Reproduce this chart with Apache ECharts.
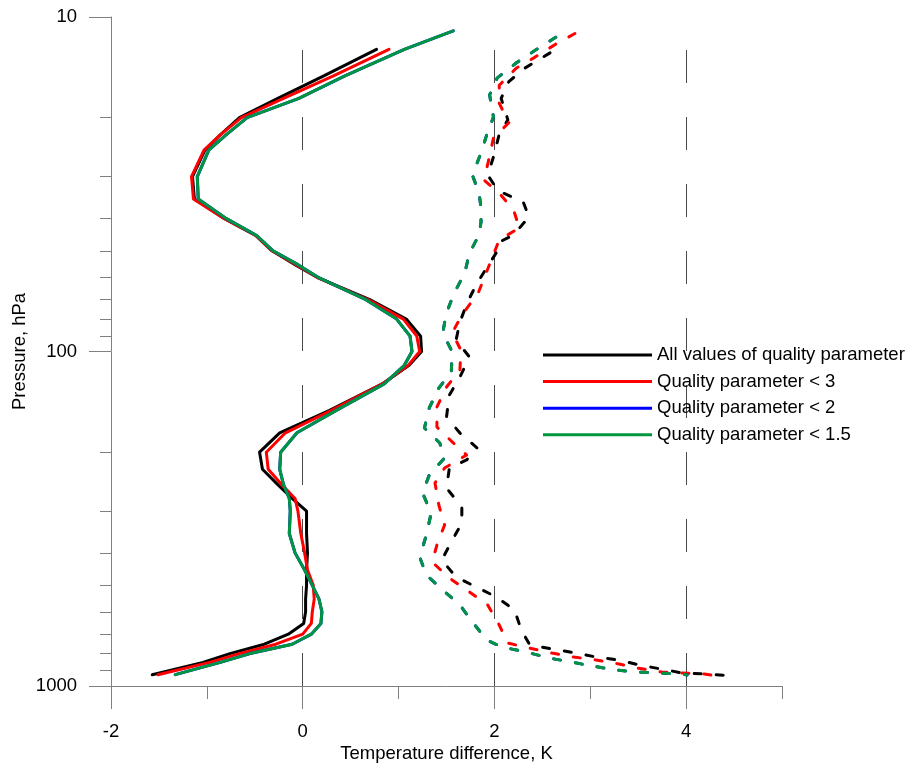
<!DOCTYPE html>
<html>
<head>
<meta charset="utf-8">
<script src="https://cdn.jsdelivr.net/npm/echarts@6/dist/echarts.min.js"></script>
<style>
html,body{margin:0;padding:0;background:#fff;}
#chart{width:911px;height:763px;}
</style>
</head>
<body>
<div id="chart"></div>
<script>
// ---- Data ----
const seriesNames = ['All values of quality parameter', 'Quality parameter < 3', 'Quality parameter < 2', 'Quality parameter < 1.5'];

// x-axis ticks (K) and y-axis ticks (hPa)
const xMajorTicks = [-2, 0, 2, 4];
const xMinorTicks = [-1, 1, 3, 5];
const pMajorTicks = [10, 100, 1000];
const pMinorTicks = [20, 30, 40, 50, 60, 70, 80, 90, 200, 300, 400, 500, 600, 700, 800, 900];
const refLinesX = [0, 2, 4];

// Solid curves (mean difference) on common pressure levels, hPa
const solidP = [11, 12.5, 15, 17.5, 20, 22.5, 25, 30, 35, 40, 45, 50, 55, 60, 70, 80, 90, 100, 110, 125, 150, 175, 200, 225, 250, 275, 300, 350, 400, 450, 500, 550, 600, 650, 700, 750, 800, 850, 925];
const solidAll = [null, 0.77, 0.22, -0.26, -0.66, -0.86, -1.02, -1.15, -1.13, -0.82, -0.49, -0.32, -0.08, 0.15, 0.70, 1.08, 1.23, 1.24, 1.11, 0.83, 0.28, -0.24, -0.45, -0.42, -0.26, -0.11, 0.04, 0.04, 0.05, 0.04, 0.04, 0.03, 0.03, 0.01, -0.15, -0.40, -0.76, -1.04, -1.57];
const solidQ3 = [null, 0.90, 0.32, -0.20, -0.64, -0.86, -1.03, -1.16, -1.14, -0.82, -0.49, -0.32, -0.07, 0.15, 0.68, 1.05, 1.19, 1.22, 1.10, 0.83, 0.30, -0.18, -0.38, -0.36, -0.22, -0.08, -0.05, -0.02, 0.02, 0.05, 0.11, 0.12, 0.10, 0.09, 0.00, -0.28, -0.66, -0.97, -1.51];
const solidQ15 = [1.57, 1.06, 0.44, -0.04, -0.58, -0.80, -0.98, -1.10, -1.09, -0.80, -0.48, -0.31, -0.05, 0.16, 0.66, 0.98, 1.12, 1.14, 1.06, 0.85, 0.35, -0.06, -0.23, -0.24, -0.20, -0.14, -0.13, -0.14, -0.08, 0.02, 0.10, 0.17, 0.20, 0.19, 0.09, -0.11, -0.55, -0.86, -1.33];
const solidQ2 = solidQ15; // blue curve is hidden under the green one

// Dashed curves (standard deviation)
const dashAllP = [12.8, 14.2, 15.6, 17.5, 20.3, 22.4, 26.2, 29.7, 33.1, 35.7, 39.6, 44.8, 47.1, 50.1, 62.4, 71.1, 81.6, 92.4, 103.9, 119.2, 134.9, 157, 175.3, 194.3, 211, 223, 255.9, 291.7, 325.6, 371.1, 420.2, 472.3, 505.8, 541.9, 592.6, 680.2, 754.2, 775.3, 796.9, 819.2, 836.2, 865.5, 889.7, 914.5, 920.8, 933.6];
const dashAllT = [2.58, 2.32, 2.15, 2.07, 2.14, 2.05, 1.99, 1.93, 2.04, 2.30, 2.36, 2.20, 2.05, 2.03, 1.82, 1.72, 1.64, 1.60, 1.74, 1.64, 1.53, 1.50, 1.64, 1.82, 1.71, 1.53, 1.50, 1.66, 1.66, 1.55, 1.45, 1.60, 1.81, 2.02, 2.21, 2.28, 2.37, 2.60, 2.85, 3.06, 3.30, 3.51, 3.74, 3.96, 4.21, 4.50];
const dashQ3P = [11.2, 12.1, 13.2, 14.2, 16.0, 18.1, 20.7, 23.0, 26.8, 30.7, 33.6, 37.8, 42.7, 46.4, 52.2, 66.9, 77.8, 88.0, 99.0, 113.6, 127.7, 146.5, 168.2, 186.4, 203.9, 223.0, 247.2, 287.7, 330.1, 378.9, 426.0, 475.6, 523.6, 572.6, 657.2, 743.9, 770.0, 796.9, 819.2, 836.2, 859.6, 883.6, 908.2, 914.5, 920.8, 927.2];
const dashQ3T = [2.84, 2.63, 2.42, 2.23, 2.05, 2.05, 2.15, 1.99, 1.94, 1.89, 2.05, 2.20, 2.26, 2.05, 1.98, 1.83, 1.66, 1.56, 1.65, 1.64, 1.50, 1.40, 1.40, 1.56, 1.71, 1.48, 1.38, 1.42, 1.48, 1.40, 1.35, 1.53, 1.74, 1.93, 2.05, 2.14, 2.36, 2.60, 2.83, 3.06, 3.30, 3.49, 3.75, 3.96, 4.19, 4.26];
const dashQ15P = [11.5, 12.55, 13.7, 15.2, 17.1, 19.9, 22.5, 25.5, 29.7, 33.6, 37.2, 41.0, 44.8, 50.8, 58.3, 66.9, 76.7, 88.0, 100.3, 115.2, 128.6, 147.5, 169.3, 187.7, 208.1, 234.0, 264.8, 304.0, 353.7, 411.6, 465.8, 516.4, 572.6, 643.8, 728.7, 764.7, 791.5, 824.8, 847.8, 871.5, 895.8, 908.2, 914.5, 920.8, 927.2];
const dashQ15T = [2.64, 2.43, 2.23, 2.03, 1.95, 1.99, 1.92, 1.86, 1.77, 1.84, 1.86, 1.86, 1.84, 1.74, 1.69, 1.58, 1.50, 1.46, 1.56, 1.55, 1.42, 1.32, 1.27, 1.43, 1.48, 1.32, 1.25, 1.34, 1.29, 1.22, 1.29, 1.46, 1.64, 1.77, 1.92, 2.08, 2.33, 2.57, 2.80, 3.02, 3.27, 3.49, 3.72, 3.95, 4.01];
const dashQ2P = dashQ15P, dashQ2T = dashQ15T; // hidden under green

const colors = ['#000000', '#ff0000', '#0000ff', '#00963f'];

// ---- Build ----
function pairs(tArr, pArr) {
  const out = [];
  for (let i = 0; i < pArr.length; i++) {
    if (tArr[i] !== null && tArr[i] !== undefined) out.push([tArr[i], pArr[i]]);
  }
  return out;
}
const FONT = '"Liberation Sans", Arial, sans-serif';
const FS = 18.5;
const axisGray = '#808080';

const solidSets = [solidAll, solidQ3, solidQ2, solidQ15];
const dashSets = [[dashAllT, dashAllP], [dashQ3T, dashQ3P], [dashQ2T, dashQ2P], [dashQ15T, dashQ15P]];

const series = [];
solidSets.forEach((arr, i) => {
  const s = {
    name: seriesNames[i],
    type: 'line',
    data: pairs(arr, solidP),
    symbol: 'none',
    showSymbol: false,
    clip: false,
    xAxisIndex: 0, yAxisIndex: 0,
    lineStyle: { color: colors[i], width: 3, cap: 'round', join: 'round' },
    itemStyle: { color: colors[i] },
    emphasis: { disabled: true },
    z: 3 + i
  };
  if (i === 0) {
    s.markLine = {
      silent: true,
      symbol: ['none', 'none'],
      label: { show: false },
      emphasis: { disabled: true },
      lineStyle: { color: '#4a4a4a', width: 1, type: [33, 34] },
      data: refLinesX.map(v => [{ coord: [v, 1000] }, { coord: [v, 10] }]),
      z: 1
    };
  }
  series.push(s);
});
dashSets.forEach((d, i) => {
  series.push({
    name: seriesNames[i] + ' (std)',
    type: 'line',
    data: pairs(d[0], d[1]),
    symbol: 'none',
    showSymbol: false,
    clip: false,
    xAxisIndex: 0, yAxisIndex: 0,
    lineStyle: { color: colors[i], width: 3, type: [7, 15], cap: 'round', join: 'round' },
    itemStyle: { color: colors[i] },
    emphasis: { disabled: true },
    z: 3 + i
  });
});

const chart = echarts.init(document.getElementById('chart'), null, { renderer: 'canvas' });
chart.setOption({
  animation: false,
  backgroundColor: '#ffffff',
  textStyle: { fontFamily: FONT },
  grid: { left: 111, top: 17, right: 129, bottom: 77, containLabel: false, outerBoundsMode: 'none' },
  legend: {
    data: seriesNames,
    orient: 'vertical',
    left: 538,
    top: 340.5,
    icon: 'rect',
    itemWidth: 109,
    itemHeight: 3,
    itemGap: 7.6,
    selectedMode: false,
    textStyle: { fontFamily: FONT, fontSize: FS, color: '#000' }
  },
  xAxis: [
    {
      type: 'value', min: -2, max: 5, position: 'bottom',
      name: 'Temperature difference, K', nameLocation: 'middle', nameGap: 58,
      nameMoveOverlap: false,
      nameTextStyle: { fontFamily: FONT, fontSize: FS, color: '#000' },
      axisLine: { show: true, onZero: false, lineStyle: { color: axisGray, width: 1 } },
      axisTick: { show: true, length: 23, customValues: xMajorTicks, lineStyle: { color: axisGray, width: 1 } },
      axisLabel: { show: true, customValues: xMajorTicks, margin: 36, fontFamily: FONT, fontSize: FS, color: '#000' },
      splitLine: { show: false }
    },
    {
      type: 'value', min: -2, max: 5, position: 'bottom',
      axisLine: { show: false, onZero: false },
      axisTick: { show: true, length: 13, customValues: xMinorTicks, lineStyle: { color: axisGray, width: 1 } },
      axisLabel: { show: false, customValues: xMinorTicks },
      splitLine: { show: false }
    }
  ],
  yAxis: [
    {
      type: 'log', logBase: 10, min: 10, max: 1000, inverse: true, position: 'left',
      name: 'Pressure, hPa', nameLocation: 'middle', nameGap: 82, nameRotate: 90,
      nameMoveOverlap: false,
      nameTextStyle: { fontFamily: FONT, fontSize: FS, color: '#000' },
      axisLine: { show: true, onZero: false, lineStyle: { color: axisGray, width: 1 } },
      axisTick: { show: true, length: 22, customValues: pMajorTicks, lineStyle: { color: axisGray, width: 1 } },
      axisLabel: { show: true, customValues: pMajorTicks, margin: 34, fontFamily: FONT, fontSize: FS, color: '#000', formatter: v => String(Math.round(v)) },
      splitLine: { show: false },
      minorTick: { show: false }
    },
    {
      type: 'log', logBase: 10, min: 10, max: 1000, inverse: true, position: 'left',
      axisLine: { show: false, onZero: false },
      axisTick: { show: true, length: 11, customValues: pMinorTicks, lineStyle: { color: axisGray, width: 1 } },
      axisLabel: { show: false, customValues: pMinorTicks },
      splitLine: { show: false }
    }
  ],
  series: series
});
</script>
</body>
</html>
